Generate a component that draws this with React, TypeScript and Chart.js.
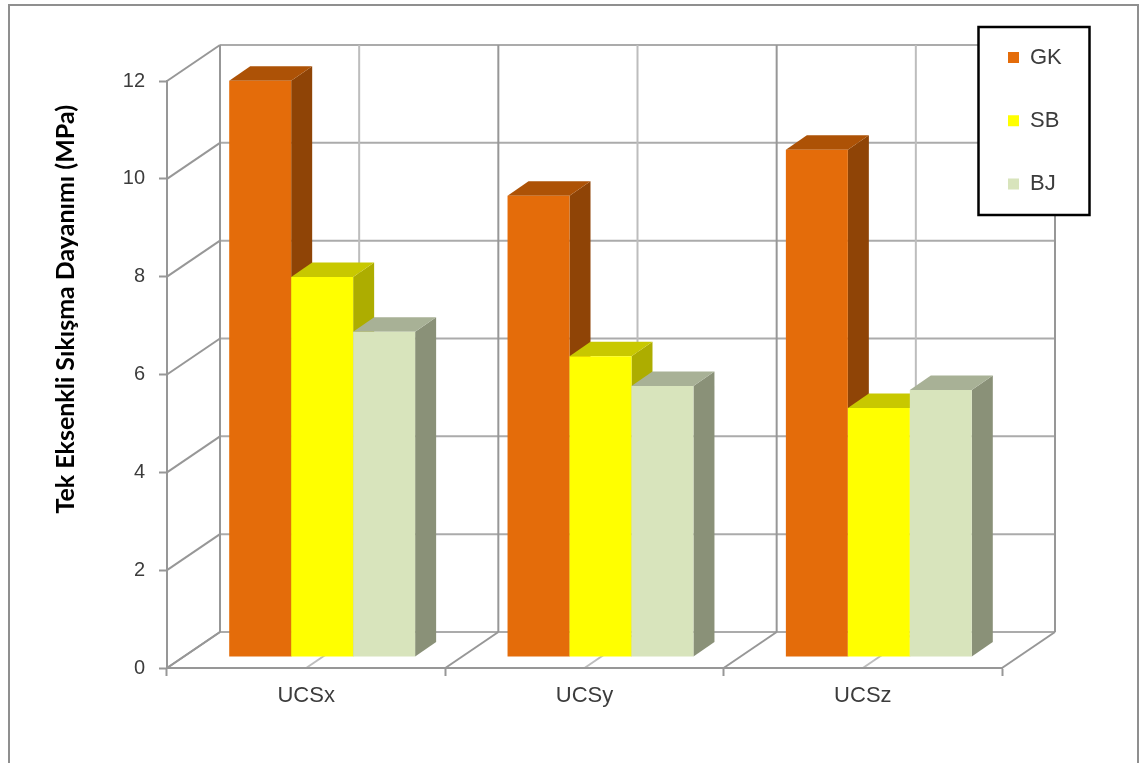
import React, { useEffect, useRef } from "react";
import { Chart, registerables } from "chart.js";

Chart.register(...registerables);

const categories = ["UCSx", "UCSy", "UCSz"];
const seriesNames = ["GK", "SB", "BJ"];
const gkValues = [11.78, 9.43, 10.37];
const sbValues = [7.77, 6.15, 5.09];
const bjValues = [6.65, 5.54, 5.46];
const yTicks = [0, 2, 4, 6, 8, 10, 12];
const axisTitle = "Tek Eksenkli Sıkışma Dayanımı (MPa)";

const frontColors = ["#E46C0A", "#FFFF00", "#D8E4BC"];
const sideColors = ["#8F4406", "#ADAD00", "#8A9178"];
const topColors = ["#AD5206", "#C8C800", "#A8B196"];

const GRAY = "#979797";
const LIGHT = "#BDBDBD";
const MID = "#ABABAB";
const TEXT = "#3c3c3c";

// Cabinet projection of the chart box
const WALL_DX = 53;
const WALL_DY = -36;
const BAR_SHIFT_X = 16;
const BAR_SHIFT_Y = -11;
const BAR_DX = 21;
const BAR_DY = -14.5;
const TITLE_SHIFT_Y = 24;

function line(ctx: CanvasRenderingContext2D, x1: number, y1: number, x2: number, y2: number, color: string) {
  ctx.strokeStyle = color;
  ctx.lineWidth = 2;
  ctx.beginPath();
  ctx.moveTo(x1, y1);
  ctx.lineTo(x2, y2);
  ctx.stroke();
}

function quad(ctx: CanvasRenderingContext2D, pts: number[], color: string) {
  ctx.fillStyle = color;
  ctx.beginPath();
  ctx.moveTo(pts[0], pts[1]);
  ctx.lineTo(pts[2], pts[3]);
  ctx.lineTo(pts[4], pts[5]);
  ctx.lineTo(pts[6], pts[7]);
  ctx.closePath();
  ctx.fill();
}

const box3d = {
  id: "box3d",
  afterLayout(chart: any) {
    const y = chart.scales.y;
    if (!y.__titleShifted) {
      y.__titleShifted = true;
      const drawTitle = y.drawTitle;
      y.drawTitle = function () {
        chart.ctx.save();
        chart.ctx.translate(0, TITLE_SHIFT_Y);
        drawTitle.call(y);
        chart.ctx.restore();
      };
    }
    const lg = chart.legend;
    lg.left = 966.7;
    lg.right = 1088;
    lg.top = 5.2;
    lg.bottom = 300;
  },
  beforeDraw(chart: any) {
    const { ctx, scales, chartArea } = chart;
    const x = scales.x;
    const y = scales.y;
    ctx.save();
    ctx.fillStyle = "#ffffff";
    ctx.fillRect(0, 0, chart.width, chart.height);

    // outer frame
    ctx.strokeStyle = "#8f8f8f";
    ctx.lineWidth = 2;
    ctx.strokeRect(9, 5, 1129, 800);

    const y0 = y.getPixelForValue(0);
    const y12 = y.getPixelForValue(12);

    // back wall: horizontal lines and left wall diagonals
    for (const v of yTicks) {
      const py = y.getPixelForValue(v);
      line(ctx, chartArea.left + WALL_DX, py + WALL_DY, chartArea.right + WALL_DX, py + WALL_DY, MID);
      line(ctx, chartArea.left, py, chartArea.left + WALL_DX, py + WALL_DY, GRAY);
    }
    // back wall: lines at category centres, with their floor diagonals
    categories.forEach((_, i) => {
      const px = x.getPixelForValue(i);
      line(ctx, px + WALL_DX, y12 + WALL_DY, px + WALL_DX, y0 + WALL_DY, LIGHT);
      line(ctx, px, y0, px + WALL_DX, y0 + WALL_DY, LIGHT);
    });
    // back wall: lines at category boundaries, with their floor diagonals
    for (let i = 0; i <= categories.length; i++) {
      const px = x.getPixelForValue(i - 0.5);
      line(ctx, px + WALL_DX, y12 + WALL_DY, px + WALL_DX, y0 + WALL_DY, GRAY);
      line(ctx, px, y0, px + WALL_DX, y0 + WALL_DY, GRAY);
    }

    // legend box
    ctx.fillStyle = "#ffffff";
    ctx.fillRect(978.5, 27, 111, 188);
    ctx.strokeStyle = "#000000";
    ctx.lineWidth = 2.5;
    ctx.strokeRect(978.5, 27, 111, 188);
    ctx.restore();
  },
  beforeDatasetsDraw(chart: any) {
    const { ctx } = chart;
    ctx.save();
    ctx.translate(BAR_SHIFT_X, BAR_SHIFT_Y);
    chart.data.datasets.forEach((_: any, d: number) => {
      chart.getDatasetMeta(d).data.forEach((bar: any) => {
        const l = bar.x - bar.width / 2;
        const r = bar.x + bar.width / 2;
        const t = bar.y;
        const b = bar.base;
        quad(ctx, [r, t, r + BAR_DX, t + BAR_DY, r + BAR_DX, b + BAR_DY, r, b], sideColors[d]);
        quad(ctx, [l, t, l + BAR_DX, t + BAR_DY, r + BAR_DX, t + BAR_DY, r, t], topColors[d]);
        bar.draw(ctx);
      });
    });
    ctx.restore();
    return false;
  },
};

export default function App() {
  const ref = useRef<HTMLCanvasElement | null>(null);
  useEffect(() => {
    const chart = new Chart(ref.current as HTMLCanvasElement, {
      type: "bar",
      data: {
        labels: categories,
        datasets: [gkValues, sbValues, bjValues].map((values, i) => ({
          label: seriesNames[i],
          data: values,
          backgroundColor: frontColors[i],
          borderWidth: 0,
          categoryPercentage: 0.668,
          barPercentage: 1,
        })),
      },
      options: {
        animation: false,
        responsive: false,
        layout: { padding: { top: 81, right: 137, bottom: 0, left: 0 } },
        font: { family: "'Liberation Sans'" },
        plugins: {
          tooltip: { enabled: false },
          title: { display: false },
          legend: {
            display: true,
            position: "chartArea",
            align: "start",
            labels: {
              boxWidth: 11,
              boxHeight: 11,
              padding: 41.3,
              color: TEXT,
              font: { family: "'Liberation Sans'", size: 22 },
            },
          },
        },
        scales: {
          x: {
            afterFit(s: any) {
              s.height = 95;
            },
            grid: { drawOnChartArea: false, drawTicks: true, tickLength: 8, tickWidth: 2, tickColor: GRAY },
            border: { display: true, color: GRAY, width: 2 },
            ticks: {
              color: TEXT,
              padding: 7,
              font: { family: "'Liberation Sans'", size: 22 },
              maxRotation: 0,
            },
          },
          y: {
            min: 0,
            max: 12,
            afterFit(s: any) {
              s.width = 167;
            },
            afterBuildTicks(s: any) {
              s.ticks = yTicks.map((value) => ({ value }));
            },
            grid: { drawOnChartArea: false, drawTicks: true, tickLength: 8, tickWidth: 2, tickColor: GRAY },
            border: { display: true, color: GRAY, width: 2 },
            ticks: {
              color: TEXT,
              padding: 14,
              font: { family: "'Liberation Sans'", size: 20 },
            },
            title: {
              display: true,
              text: axisTitle,
              align: "end",
              color: "#000000",
              font: { family: "Lato", size: 25, weight: "bold" },
              padding: { top: 51, bottom: 0 },
            },
          },
        },
      } as any,
      plugins: [box3d as any],
    });
    return () => chart.destroy();
  }, []);
  return (
    <div style={{ position: "absolute", left: 0, top: 0, width: 1139, height: 763, overflow: "hidden" }}>
      <canvas ref={ref} width={1139} height={763} style={{ display: "block" }} />
    </div>
  );
}
